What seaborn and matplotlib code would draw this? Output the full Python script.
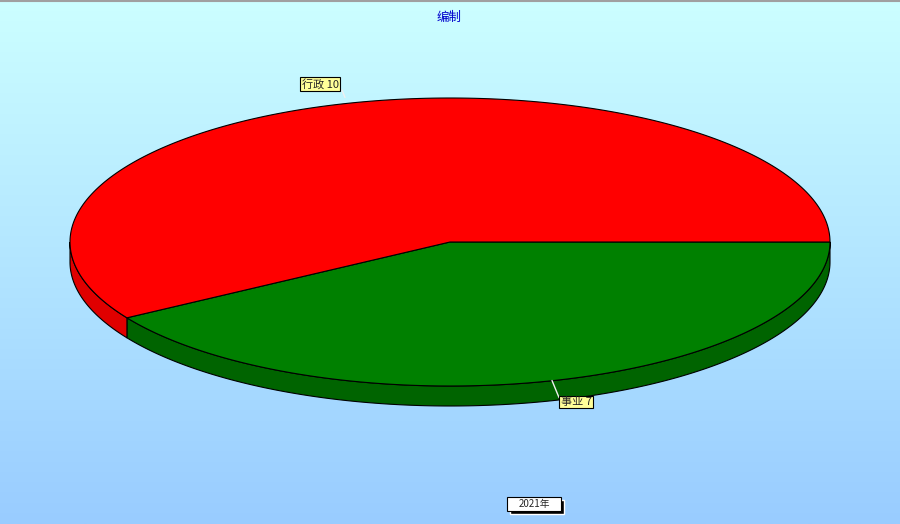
import numpy as np
import matplotlib
matplotlib.use("Agg")
import matplotlib.pyplot as plt
import seaborn as sns
from matplotlib.patches import Polygon

# data
categories = ["事业", "行政"]
values = [7, 10]
top_colors = ["#008000", "#ff0000"]
side_colors = ["#006400", "#e00000"]
title = "编制"
series_label = "2021年"

sns.set_style("white")
plt.rcParams['font.family'] = ['Noto Sans CJK SC', 'DejaVu Sans']

fig = plt.figure(figsize=(9, 5.24), dpi=100)
ax = fig.add_axes([0, 0, 1, 1])
ax.set_xlim(0, 900)
ax.set_ylim(524, 0)
ax.axis('off')

# background gradient
grad = np.linspace(0, 1, 256).reshape(-1, 1)
bg = sns.blend_palette(["#ccffff", "#99ccff"], n_colors=256, as_cmap=True)
ax.imshow(grad, cmap=bg, extent=[0, 900, 524, 0], aspect='auto', zorder=0)
ax.plot([0, 900], [0.5, 0.5], color="#a0a0a0", lw=1.5, zorder=1)

# pie geometry
cx, cy, rx, ry, depth = 450, 242, 380, 144, 20
fracs = np.array(values) / sum(values)
edges = np.concatenate([[0], np.cumsum(fracs)]) * 360


def arc(a0, a1, dy=0, n=200):
    t = np.radians(np.linspace(a0, a1, n))
    return np.column_stack([cx + rx * np.cos(t), cy + ry * np.sin(t) + dy])


# side walls (front half only: 0..180 deg)
for i in range(len(values)):
    a0, a1 = max(edges[i], 0), min(edges[i + 1], 180)
    if a1 <= a0:
        continue
    upper = arc(a0, a1)
    lower = arc(a0, a1, depth)[::-1]
    ax.add_patch(Polygon(np.vstack([upper, lower]), closed=True,
                         facecolor=side_colors[i], edgecolor='black', lw=0.8, zorder=2))

# top surfaces
for i in range(len(values)):
    pts = np.vstack([[cx, cy], arc(edges[i], edges[i + 1]), [cx, cy]])
    ax.add_patch(Polygon(pts, closed=True, facecolor=top_colors[i],
                         edgecolor='black', lw=0.8, zorder=3))

# labels with leader lines
label_pos = [(576, 402), (320, 84)]
for i in range(len(values)):
    mid = np.radians((edges[i] + edges[i + 1]) / 2)
    px = cx + rx * np.cos(mid)
    py = cy + ry * np.sin(mid)
    lx, ly = label_pos[i]
    if np.sin(mid) > 0:
        ax.plot([px - 2, px + 5], [py, py + 17], color='#f0f0f0', lw=1, zorder=4)
    else:
        ax.plot([lx + 22, lx + 25], [ly + 6, py - 6], color='#f0f0f0', lw=1, zorder=1)
    ax.text(lx, ly, f"{categories[i]} {values[i]}", ha='center', va='center', fontsize=8,
            bbox=dict(boxstyle='square,pad=0.12', fc='#ffff99', ec='black', lw=0.8), zorder=5)

ax.text(449, 17, title, ha='center', va='center', fontsize=9, color='#0000cc', zorder=5)

# legend box with shadow
ax.add_patch(plt.Rectangle((510, 500), 54, 14, facecolor='black', zorder=4))
ax.add_patch(plt.Rectangle((507, 497), 54, 14, facecolor='white', edgecolor='black', lw=0.8, zorder=5))
ax.text(534, 504, series_label, ha='center', va='center', fontsize=7, zorder=6)

fig.savefig("out.png", dpi=100)
